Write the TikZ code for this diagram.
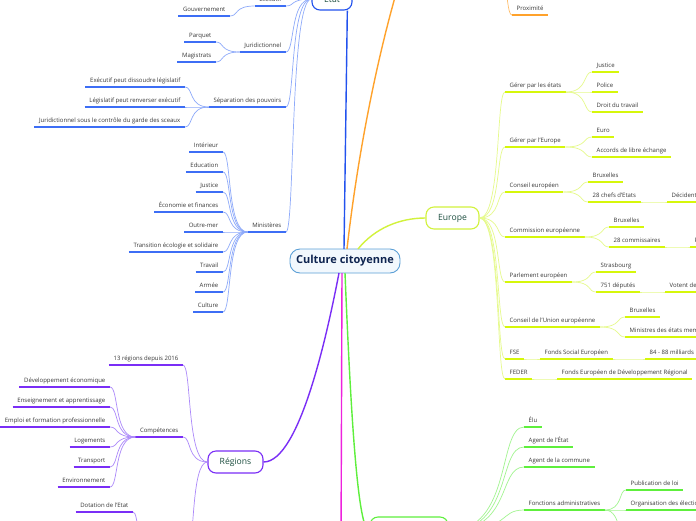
\documentclass[tikz,border=0pt]{standalone}
\usepackage{fontspec}
\setmainfont{Open Sans}
\usetikzlibrary{calc}

\definecolor{etatM}{HTML}{2252EE}
\definecolor{etatU}{HTML}{3D6EF5}
\definecolor{etatC}{HTML}{8EAAFA}
\definecolor{euB}{HTML}{D2F23C}
\definecolor{euU}{HTML}{D6F70A}
\definecolor{euC}{HTML}{E6FA8C}
\definecolor{regU}{HTML}{7A2EF6}
\definecolor{regC}{HTML}{AC88FA}
\definecolor{grU}{HTML}{5EEF3C}
\definecolor{grC}{HTML}{A2F590}
\definecolor{magL}{HTML}{EE22DD}
\definecolor{orgL}{HTML}{FFA22B}
\definecolor{ctrB}{HTML}{5B9FD6}
\definecolor{ctrF}{HTML}{F2F8FD}
\definecolor{ctrT}{HTML}{0E2450}
\definecolor{brT}{HTML}{1B4D3E}
\definecolor{leafT}{HTML}{383838}

\newcommand\leaffont{\fontsize{6}{7}\selectfont}

\tikzset{
  twig/.style={to path={.. controls ($(\tikztostart)!0.85!(\tikztostart-|\tikztotarget)$) and ($(\tikztotarget)!0.35!(\tikztotarget-|\tikztostart)$) .. (\tikztotarget)}},
  fil/.style={draw=#1, line width=0.7pt},
  leaf/.style={font=\leaffont, text=leafT, inner xsep=4.5pt, inner ysep=3pt,
    text height=4.4pt, text depth=1.6pt,
    append after command={(\tikzlastnode.south west) edge[draw=#1, line width=1.7pt] (\tikzlastnode.south east)}},
  lL/.style={leaf=#1, anchor=south east},
  lR/.style={leaf=#1, anchor=south west},
  branche/.style={draw=#1, line width=1.1pt, rounded corners=8pt, fill=white, text=brT,
    font=\fontsize{8.6}{10}\selectfont},
  tronc/.style={draw=#1, line width=1.4pt},
}

\begin{document}
\begin{tikzpicture}[x=1pt, y=-1pt]
  \useasboundingbox (0,0) rectangle (696,520);
  \fill[white] (0,0) rectangle (696,520);
  \clip (0,0) rectangle (696,520);

  % noeuds principaux
  \node[draw=ctrB, fill=ctrF, line width=0.9pt, rounded corners=10pt, minimum width=110pt,
    minimum height=24pt, text=ctrT, font=\fontsize{11}{13}\selectfont\bfseries] (ctr) at (345,261) {Culture citoyenne};
  \node[branche=etatM, minimum width=40pt, minimum height=22pt] (etat) at (332,-1) {Etat};
  \node[branche=euB, minimum width=53pt, minimum height=22pt] (europe) at (452.5,218) {Europe};
  \node[branche=regU, minimum width=55pt, minimum height=22pt] (regions) at (235.5,462) {Régions};
  \node[branche=grU, minimum width=78pt, minimum height=28pt] (grn) at (409,531) {};

  % points hors cadre
  \coordinate (orgN) at (400,-20);
  \coordinate (orgP) at (492,-40);
  \coordinate (magN) at (341,545);
  \coordinate (finE) at (188,548);
  \coordinate (finW) at (150,548);
  \coordinate (fcX) at (626,548);

  % branches depuis le centre
  \coordinate (oE) at (344,249);
  \coordinate (oO) at (347,249);
  \coordinate (oU) at (358,249);
  \coordinate (oR) at (339,273);
  \coordinate (oM) at (342,273);
  \coordinate (oG) at (345,273);
  \draw[tronc=etatM] (oE) -- (etat.-37);
  \draw[tronc=orgL] (oO) .. controls (357,160) and (376,60) .. (orgN);
  \draw[tronc=euB] (oU) .. controls (375,228) and (400,218) .. (europe.west);
  \draw[tronc=regU] (oR) .. controls (328,330) and (300,462) .. (regions.east);
  \draw[tronc=magL] (oM) -- (magN);
  \draw[tronc=grU] (oG) .. controls (351,420) and (358,531) .. (grn.west);

  % Etat
  \node[lL=etatU] (exe) at (286,6) {Exécutif};
  \node[lL=etatU] (gouv) at (230,16) {Gouvernement};
  \node[lL=etatU] (jur) at (286,52) {Juridictionnel};
  \node[lL=etatU] (parq) at (216,42) {Parquet};
  \node[lL=etatU] (magi) at (216,62) {Magistrats};
  \node[lL=etatU] (sep) at (286,107) {Séparation des pouvoirs};
  \node[lL=etatU] (sep1) at (185,87) {Exécutif peut dissoudre législatif};
  \node[lL=etatU] (sep2) at (185,107) {Législatif peut renverser exécutif};
  \node[lL=etatU] (sep3) at (185,127) {Juridictionnel sous le contrôle du garde des sceaux};
  \node[lL=etatU] (mini) at (286,232) {Ministères};
  \foreach \t [count=\i] in {Intérieur, Education, Justice, Économie et finances, Outre-mer,
      Transition écologie et solidaire, Travail, Armée, Culture}
    \node[lL=etatU] (m\i) at (223,132+20*\i) {\t};

  \foreach \n in {exe,jur,sep,mini} \draw[fil=etatC] (etat.west) to[twig] (\n.south east);
  \draw[fil=etatC] (exe.south west) to[twig] (gouv.south east);
  \foreach \n in {parq,magi} \draw[fil=etatC] (jur.south west) to[twig] (\n.south east);
  \foreach \n in {sep1,sep2,sep3} \draw[fil=etatC] (sep.south west) to[twig] (\n.south east);
  \foreach \i in {1,...,9} \draw[fil=etatC] (mini.south west) to[twig] (m\i.south east);

  % Régions
  \node[lL=regU] (r13) at (183,365) {13 régions depuis 2016};
  \node[lL=regU] (comp) at (183,437) {Compétences};
  \foreach \t [count=\i] in {Développement économique, Enseignement et apprentissage,
      Emploi et formation professionnelle, Logements, Transport, Environnement}
    \node[lL=regU] (c\i) at (110,367+20*\i) {\t};
  \node[lL=regU] (dot) at (133,512) {Dotation de l'Etat};

  \foreach \n in {r13.south east,comp.south east,finE} \draw[fil=regC] (regions.west) to[twig] (\n);
  \foreach \i in {1,...,6} \draw[fil=regC] (comp.south west) to[twig] (c\i.south east);
  \draw[fil=regC] (finW) to[twig] (dot.south east);

  % Europe
  \node[lR=euU] (g1) at (505,92) {Gérer par les états};
  \node[lR=euU] (g1a) at (592,72) {Justice};
  \node[lR=euU] (g1b) at (592,92) {Police};
  \node[lR=euU] (g1c) at (592,112) {Droit du travail};
  \node[lR=euU] (g2) at (505,147) {Gérer par l'Europe};
  \node[lR=euU] (g2a) at (592,137) {Euro};
  \node[lR=euU] (g2b) at (592,157) {Accords de libre échange};
  \node[lR=euU] (ce) at (505,192) {Conseil européen};
  \node[lR=euU] (ce1) at (588,182) {Bruxelles};
  \node[lR=euU] (ce2) at (588,202) {28 chefs d'Etats};
  \node[lR=euU] (ce3) at (667,202) {Décident des orientations};
  \node[lR=euU] (co) at (505,237) {Commission européenne};
  \node[lR=euU] (co1) at (609,227) {Bruxelles};
  \node[lR=euU] (co2) at (609,247) {28 commissaires};
  \node[lR=euU] (co3) at (690,247) {Proposent les lois};
  \node[lR=euU] (pe) at (505,282) {Parlement européen};
  \node[lR=euU] (pe1) at (596,272) {Strasbourg};
  \node[lR=euU] (pe2) at (596,292) {751 députés};
  \node[lR=euU] (pe3) at (665,292) {Votent des lois};
  \node[lR=euU] (cu) at (505,327) {Conseil de l'Union européenne};
  \node[lR=euU] (cu1) at (625,317) {Bruxelles};
  \node[lR=euU] (cu2) at (625,337) {Ministres des états membres};
  \node[lR=euU] (fse) at (505,359) {FSE};
  \node[lR=euU] (fse1) at (540,359) {Fonds Social Européen};
  \node[lR=euU] (fse2) at (645,359) {84 - 88 milliards};
  \node[lR=euU] (fed) at (505,379) {FEDER};
  \node[lR=euU] (fed1) at (557,379) {Fonds Européen de Développement Régional};

  \foreach \n in {g1,g2,ce,co,pe,cu,fse,fed} \draw[fil=euC] (europe.east) to[twig] (\n.south west);
  \foreach \a/\b in {g1/g1a,g1/g1b,g1/g1c,g2/g2a,g2/g2b,ce/ce1,ce/ce2,ce2/ce3,co/co1,co/co2,co2/co3,
      pe/pe1,pe/pe2,pe2/pe3,cu/cu1,cu/cu2,fse/fse1,fse1/fse2,fed/fed1}
    \draw[fil=euC] (\a.south east) to[twig] (\b.south west);

  % commune
  \node[lR=grU] (elu) at (524,427) {Élu};
  \node[lR=grU] (age) at (524,447) {Agent de l'État};
  \node[lR=grU] (agc) at (524,467) {Agent de la commune};
  \node[lR=grU] (fct) at (524,510) {Fonctions administratives};
  \node[lR=grU] (fc1) at (626,490) {Publication de loi};
  \node[lR=grU] (fc2) at (626,510) {Organisation des élections};

  \foreach \n in {elu,age,agc,fct} \draw[fil=grC] (grn.east) to[twig] (\n.south west);
  \foreach \n in {fc1.south west,fc2.south west,fcX} \draw[fil=grC] (fct.south east) to[twig] (\n);

  % proximité
  \node[lR=orgL] (prox) at (512,15) {Proximité};
  \draw[fil=orgL!70] (orgP) to[twig] (prox.south west);
\end{tikzpicture}
\end{document}
